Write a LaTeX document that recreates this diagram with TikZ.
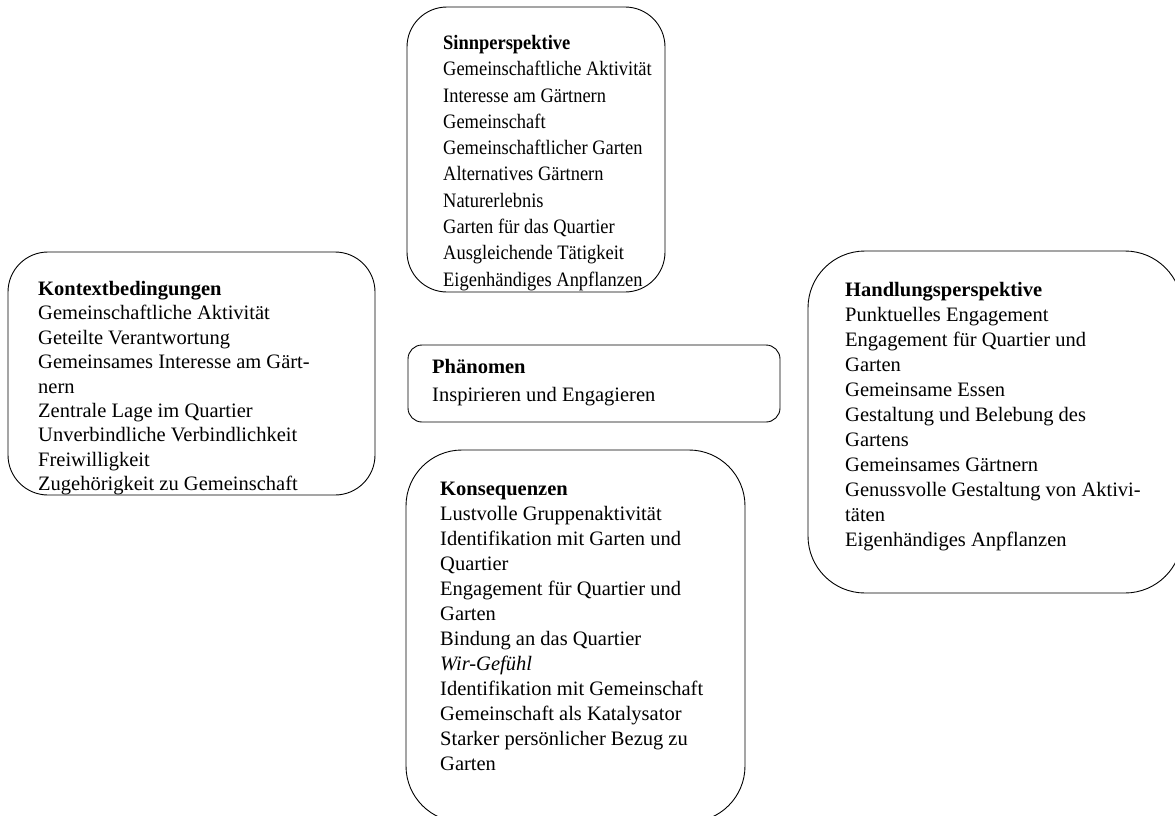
\documentclass[tikz,border=0pt]{standalone}
\usepackage{fontspec}
\setmainfont{Liberation Serif}
\newfontfamily\sinnfont[FakeStretch=0.9]{Liberation Serif}
\begin{document}
\begin{tikzpicture}[x=1pt,y=-1pt,
  box/.style={draw=black, line width=0.9pt},
  txt/.style={anchor=north west, inner sep=0pt, align=left},
  fa/.style={font=\fontsize{20.5pt}{25pt}\selectfont},
  fb/.style={font=\sinnfont\fontsize{20.5pt}{26.3pt}\selectfont},
  fc/.style={font=\fontsize{20.5pt}{24.4pt}\selectfont},
  fd/.style={font=\fontsize{20.5pt}{28.5pt}\selectfont}]
\useasboundingbox (0,0) rectangle (1175,816);
\clip (0,0) rectangle (1175,816);
% boxes
\draw[box, rounded corners=40pt] (407,7) rectangle (665,292);
\draw[box, rounded corners=40pt] (8,252) rectangle (375,495);
\draw[box, rounded corners=14pt] (408,345) rectangle (780,422);
\draw[box, rounded corners=57pt] (808,251) rectangle (1182,593);
\draw[box, rounded corners=56pt] (406,450) rectangle (745,822);
% texts
\node[txt, fb] (sinn) at (443,35) {\textbf{Sinnperspektive}\\Gemeinschaftliche Aktivität\\Interesse am Gärtnern\\Gemeinschaft\\Gemeinschaftlicher Garten\\Alternatives Gärtnern\\Naturerlebnis\\Garten für das Quartier\\Ausgleichende Tätigkeit\\Eigenhändiges Anpflanzen};
\node[txt, fc] (kontext) at (38,281) {\textbf{Kontextbedingungen}\\Gemeinschaftliche Aktivität\\Geteilte Verantwortung\\Gemeinsames Interesse am Gärt-\\nern\\Zentrale Lage im Quartier\\Unverbindliche Verbindlichkeit\\Freiwilligkeit\\Zugehörigkeit zu Gemeinschaft};
\node[txt, fd] (phaen) at (432,359) {\textbf{Phänomen}\\Inspirieren und Engagieren};
\node[txt, fa] (handlung) at (845,282) {\textbf{Handlungsperspektive}\\Punktuelles Engagement\\Engagement für Quartier und\\Garten\\Gemeinsame Essen\\Gestaltung und Belebung des\\Gartens\\Gemeinsames Gärtnern\\Genussvolle Gestaltung von Aktivi-\\täten\\Eigenhändiges Anpflanzen};
\node[txt, fa] (konseq) at (440,482) {\textbf{Konsequenzen}\\Lustvolle Gruppenaktivität\\Identifikation mit Garten und\\Quartier\\Engagement für Quartier und\\Garten\\Bindung an das Quartier\\\textit{Wir-Gefühl}\\Identifikation mit Gemeinschaft\\Gemeinschaft als Katalysator\\Starker persönlicher Bezug zu\\Garten};
\end{tikzpicture}
\end{document}
